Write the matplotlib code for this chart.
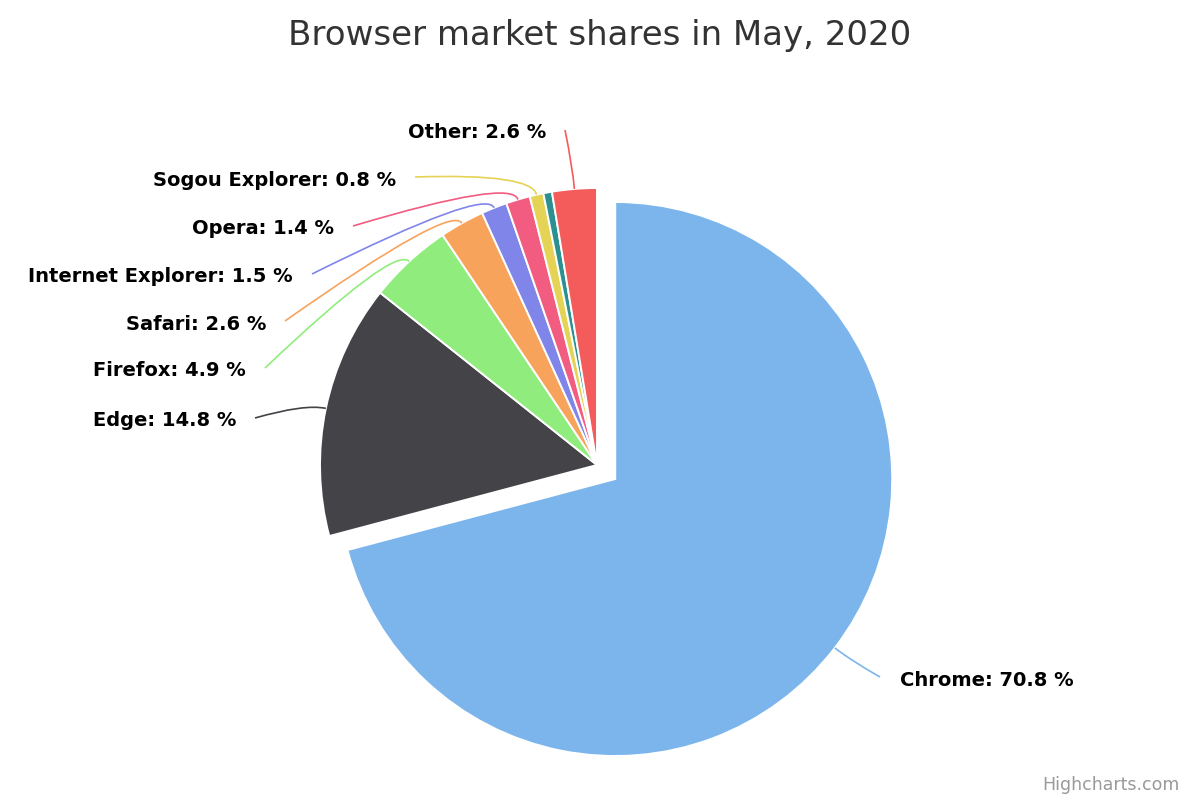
import numpy as np
import matplotlib.pyplot as plt
from matplotlib.path import Path
from matplotlib.patches import PathPatch

browsers = ['Chrome', 'Edge', 'Firefox', 'Safari', 'Internet Explorer',
            'Opera', 'Sogou Explorer', 'QQ', 'Other']
shares = [70.8, 14.8, 4.9, 2.6, 1.5, 1.4, 0.8, 0.5, 2.6]
show_label = [True, True, True, True, True, True, True, False, True]
colors = ['#7cb5ec', '#434348', '#90ed7d', '#f7a35c', '#8085e9',
          '#f15c80', '#e4d354', '#2b908f', '#f45b5b']

# label layout in pixels (connector end)
label_pos = [(880, 677), (255, 418), (265, 368), (285, 321), (312, 274),
             (353, 226), (415, 177), None, (565, 130)]

fig = plt.figure(figsize=(12, 8), dpi=100)
ax = fig.add_axes([0, 0, 1, 1])

center = (597, 465)
radius = 277
explode = [23] + [0] * (len(shares) - 1)

wedges, _ = ax.pie(shares, colors=colors, startangle=-90, counterclock=True,
                   center=center, radius=radius, explode=explode,
                   wedgeprops=dict(edgecolor='white', linewidth=1.4),
                   normalize=True, frame=True)
ax.set_xlim(0, 1200)
ax.set_ylim(800, 0)
ax.axis('off')

for w, name, val, show, pos, col in zip(wedges, browsers, shares, show_label,
                                        label_pos, colors):
    if not show:
        continue
    mid = np.deg2rad((w.theta1 + w.theta2) / 2)
    d = np.array([np.cos(mid), np.sin(mid)])
    a = np.array(w.center) + w.r * d
    p = a + d * 22
    path = Path([a, p, pos], [Path.MOVETO, Path.CURVE3, Path.CURVE3])
    ax.add_patch(PathPatch(path, fill=False, edgecolor=col, lw=1.2))
    right = d[0] > 0
    tx = pos[0] + 20 if right else pos[0] - 19
    ax.text(tx, pos[1] + 3, f'{name}: {val:.1f} %', ha='left' if right else 'right',
            va='center', fontsize=14, fontweight='bold', color='black')

ax.text(600, 35, 'Browser market shares in May, 2020', ha='center', va='center',
        fontsize=24.5, color='#333333')
ax.text(1180, 785, 'Highcharts.com', ha='right', va='center', fontsize=12.5,
        color='#999999')

fig.savefig('out.png', dpi=100)
